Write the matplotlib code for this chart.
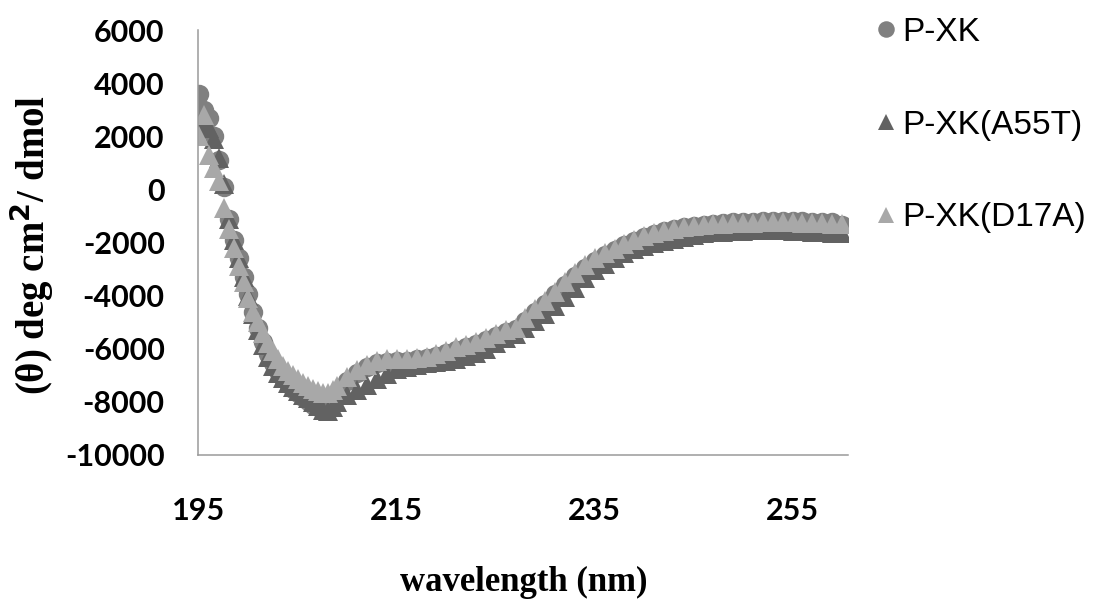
import matplotlib
matplotlib.use("Agg")
import numpy as np
import matplotlib.pyplot as plt

plt.rcParams["axes.unicode_minus"] = False

# wavelength grid (nm): half-nm steps through the steep part, then 1 nm
wavelength = np.concatenate([np.arange(195, 209, 0.5), np.arange(209, 261, 1)])

pxk = [3600, 3000, 2700, 2000, 1100, 100, -1100, -1900, -2600, -3300,
       -3950, -4600, -5200, -5750, -6200, -6550, -6850, -7100, -7300, -7500,
       -7650, -7800, -7950, -8100, -8200, -8250, -8100, -7900,
       -7700, -7200, -6900, -6700, -6550, -6480,
       -6450, -6450, -6400, -6350, -6270, -6170, -6030, -5920, -5820, -5680,
       -5530, -5380, -5270, -4950, -4600, -4300, -3950, -3600, -3250, -2950,
       -2680, -2470, -2280, -2100, -1940, -1790, -1680, -1580, -1500, -1430,
       -1380, -1330, -1290, -1260, -1240, -1220, -1210, -1200, -1190, -1190,
       -1190, -1200, -1210, -1220, -1240, -1330]

a55t = [2500, 2600, 2300, 1900, 1200, 200, -1100, -1900, -2600, -3300,
        -4000, -4700, -5300, -5850, -6300, -6650, -6900, -7100, -7300, -7450,
        -7600, -7750, -7850, -8000, -8150, -8300, -8350, -8200,
        -8000, -7750, -7550, -7350, -7150, -6950,
        -6780, -6680, -6600, -6550, -6500, -6470, -6400, -6270, -6150, -6000,
        -5800, -5600, -5430, -5200, -4950, -4700, -4400, -4050, -3700, -3350,
        -3050, -2800, -2600, -2400, -2250, -2120, -2030, -1950, -1870, -1790,
        -1720, -1660, -1620, -1590, -1570, -1550, -1540, -1530, -1530, -1540,
        -1550, -1570, -1590, -1610, -1630, -1650]

d17a = [2000, 2800, 1300, 800, 300, -700, -1500, -2200, -2900, -3500,
        -4100, -4600, -5000, -5400, -5800, -6100, -6400, -6650, -6850, -7000,
        -7150, -7300, -7400, -7500, -7600, -7650, -7650, -7550,
        -7400, -7050, -6800, -6600, -6450, -6400,
        -6400, -6400, -6350, -6300, -6200, -6100, -5950, -5850, -5750, -5600,
        -5450, -5300, -5200, -4850, -4500, -4200, -3850, -3500, -3150, -2850,
        -2600, -2400, -2230, -2050, -1900, -1750, -1650, -1560, -1490, -1430,
        -1390, -1350, -1320, -1300, -1280, -1260, -1250, -1240, -1230, -1230,
        -1240, -1250, -1260, -1270, -1290, -1310]

labels = ["P-XK", "P-XK(A55T)", "P-XK(D17A)"]
x_ticks = [195, 215, 235, 255]
y_ticks = list(range(-10000, 6001, 2000))

W, H = 1097, 602
fig = plt.figure(figsize=(W / 100, H / 100), dpi=100)
ax = fig.add_axes([198 / W, 1 - 455 / H, 650 / W, (455 - 30) / H])

ax.plot(wavelength, pxk, "o", ms=14, color="#808080", mec="#808080", mew=0, label=labels[0])
ax.plot(wavelength, a55t, "^", ms=14, color="#626262", mec="#626262", mew=0, label=labels[1])
ax.plot(wavelength, d17a, "^", ms=14, color="#a8a8a8", mec="#a8a8a8", mew=0, label=labels[2])

ax.set_xlim(194.9, 260.6)
ax.set_ylim(-10000, 6000)
ax.set_xticks(x_ticks)
ax.set_yticks(y_ticks)

for side in ["top", "right"]:
    ax.spines[side].set_visible(False)
for side in ["left", "bottom"]:
    ax.spines[side].set_color("#9a9a9a")
    ax.spines[side].set_linewidth(1.1)

ax.tick_params(axis="both", length=0)
ax.tick_params(axis="y", pad=24)
ax.tick_params(axis="x", pad=30)
for lab in ax.get_xticklabels() + ax.get_yticklabels():
    lab.set_fontfamily("Lato")
    lab.set_fontweight("bold")
    lab.set_fontsize(22)

leg = ax.legend(loc="upper left", bbox_to_anchor=(877 / W, 1 - 17 / H),
                bbox_transform=fig.transFigure, frameon=False,
                borderpad=0, borderaxespad=0, handlelength=0.55,
                handletextpad=0.2, labelspacing=1.85, markerscale=0.85,
                prop={"family": "Liberation Sans", "size": 24})

fig.text(524 / W, 1 - 591 / H, "wavelength (nm)", ha="center", va="baseline",
         fontfamily="Liberation Serif", fontweight="bold", fontsize=25)
fig.text(32 / W, 1 - 245 / H, r"(θ) deg cm$^{\mathbf{2}}$/ dmol", ha="center", va="center",
         rotation=90, fontfamily="Liberation Serif", fontweight="bold", fontsize=28)

fig.savefig("out.png", dpi=100)
